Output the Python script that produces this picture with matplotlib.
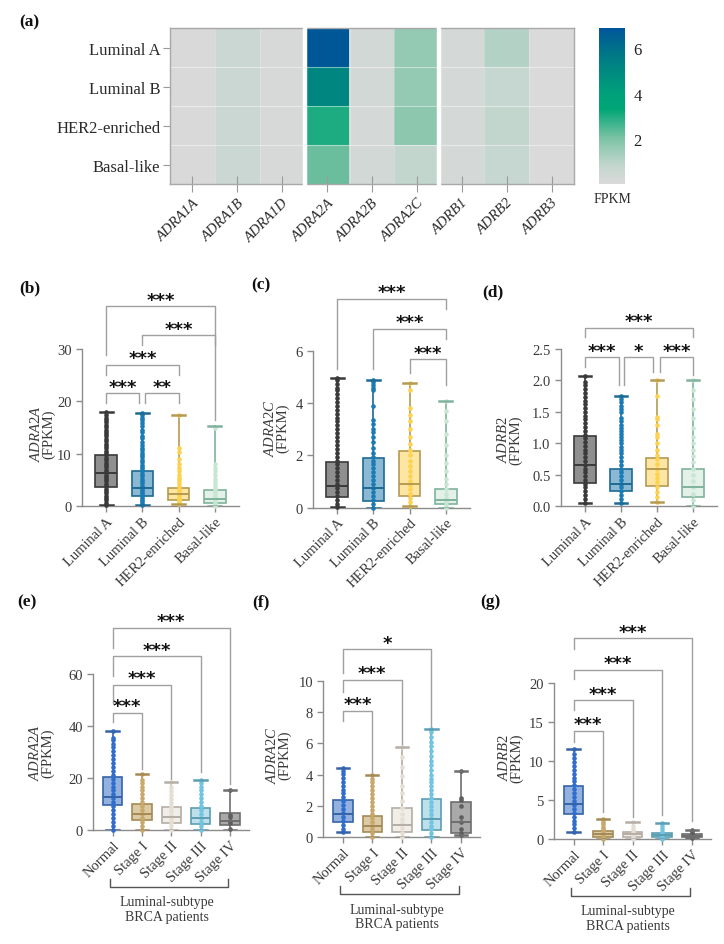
import numpy as np
import matplotlib
matplotlib.use('Agg')
import matplotlib.pyplot as plt
from matplotlib.colors import LinearSegmentedColormap

plt.rcParams['font.family'] = ['Liberation Serif', 'DejaVu Serif']
plt.rcParams['mathtext.fontset'] = 'custom'
plt.rcParams['mathtext.it'] = 'Liberation Serif:italic'
plt.rcParams['mathtext.rm'] = 'Liberation Serif'

W, H = 724, 945

# ---------------- (a) heatmap data ----------------
subtypes = ['Luminal A', 'Luminal B', 'HER2-enriched', 'Basal-like']
receptors = ['ADRA1A', 'ADRA1B', 'ADRA1D', 'ADRA2A', 'ADRA2B',
             'ADRA2C', 'ADRB1', 'ADRB2', 'ADRB3']
heat_fpkm = [
    [0.05, 0.50, 0.15, 6.80, 0.25, 1.60, 0.20, 1.10, 0.02],
    [0.05, 0.50, 0.15, 5.10, 0.25, 1.60, 0.20, 0.70, 0.02],
    [0.05, 0.50, 0.15, 3.00, 0.20, 1.75, 0.20, 0.80, 0.02],
    [0.05, 0.55, 0.15, 2.20, 0.25, 0.80, 0.20, 0.70, 0.02],
]

# ---------------- (b)-(d) subtype box data ----------------
subtype_colors = {
    'fill': ['#8f8f8f', '#8bb9d4', '#fde6a3', '#e3f1e8'],
    'edge': ['#3a3a3a', '#1d6a94', '#b59a52', '#7fb39d'],
    'pts':  ['#3a3a3a', '#1a7bb5', '#fdd24f', '#c9e6d3'],
}

b_med = [6.3, 3.4, 2.3, 1.4]
b_q1 = [3.6, 2.0, 1.2, 0.6]
b_q3 = [9.7, 6.7, 3.4, 3.1]
b_lo = [0.25, 0.1, 0.3, 0.0]
b_hi = [18.0, 17.8, 17.3, 15.2]
b_pts = [
    [0.25, 0.6, 1.1, 1.5, 2.0, 2.4, 2.9, 3.3, 3.8, 4.2, 4.7, 5.1, 5.6, 6.0, 6.5, 6.9, 7.4,
     7.9, 8.3, 8.8, 9.2, 9.7, 10.1, 10.6, 11.0, 11.5, 11.9, 12.4, 12.8, 13.3, 13.7, 14.2,
     14.6, 15.1, 15.5, 16.0, 16.4, 16.9, 17.4, 18.0],
    [0.1, 0.5, 0.9, 1.3, 1.7, 2.2, 2.6, 3.0, 3.5, 3.9, 4.3, 4.8, 5.2, 5.7, 6.1, 6.6, 7.0,
     7.5, 7.9, 8.4, 8.8, 9.3, 9.7, 10.2, 10.7, 11.1, 11.6, 12.2, 12.9, 13.4, 14.1, 14.6,
     15.3, 15.9, 16.4, 16.9, 17.4, 17.8],
    [0.3, 0.7, 1.0, 1.4, 1.8, 2.1, 2.5, 2.9, 3.3, 3.8, 4.3, 4.9, 5.4, 6.0, 6.6, 7.3, 8.1,
     8.9, 10.3, 11.0, 17.3],
    [0.0, 0.4, 0.8, 1.2, 1.7, 2.1, 2.6, 3.0, 3.5, 4.0, 4.6, 5.2, 5.9, 6.6, 7.3, 8.0, 15.0],
]

c_med = [0.83, 0.75, 0.92, 0.29]
c_q1 = [0.39, 0.26, 0.45, 0.13]
c_q3 = [1.73, 1.89, 2.15, 0.71]
c_lo = [0.02, 0.0, 0.04, 0.0]
c_hi = [4.97, 4.88, 4.76, 4.08]
c_pts = [
    [0.02, 0.15, 0.3, 0.45, 0.6, 0.75, 0.9, 1.05, 1.2, 1.35, 1.5, 1.65, 1.8, 1.95, 2.1,
     2.25, 2.4, 2.55, 2.7, 2.85, 3.0, 3.15, 3.3, 3.45, 3.6, 3.75, 3.9, 4.05, 4.2, 4.35,
     4.5, 4.6, 4.75, 4.9, 4.97],
    [0.0, 0.15, 0.3, 0.45, 0.6, 0.75, 0.9, 1.05, 1.2, 1.35, 1.5, 1.65, 1.8, 1.95, 2.1,
     2.3, 2.5, 2.7, 2.9, 3.0, 3.2, 3.35, 3.9, 4.5, 4.6, 4.7, 4.8, 4.88],
    [0.04, 0.2, 0.35, 0.5, 0.7, 0.85, 1.0, 1.2, 1.4, 1.6, 1.8, 2.0, 2.2, 2.45, 2.7, 3.0,
     3.3, 3.55, 3.8, 4.5, 4.76],
    [0.0, 0.1, 0.2, 0.35, 0.5, 0.7, 0.9, 1.1, 1.4, 1.7, 2.0, 2.4, 2.8, 3.3, 3.7, 4.08],
]

d_med = [0.66, 0.35, 0.59, 0.31]
d_q1 = [0.365, 0.24, 0.33, 0.14]
d_q3 = [1.11, 0.60, 0.76, 0.60]
d_lo = [0.06, 0.06, 0.07, 0.01]
d_hi = [2.07, 1.76, 2.0, 2.01]
d_pts = [
    [0.06, 0.12, 0.18, 0.24, 0.3, 0.36, 0.42, 0.48, 0.54, 0.6, 0.66, 0.72, 0.78, 0.84,
     0.9, 0.96, 1.02, 1.08, 1.14, 1.2, 1.26, 1.32, 1.38, 1.44, 1.5, 1.56, 1.62, 1.68,
     1.74, 1.8, 1.86, 1.92, 1.98, 2.07],
    [0.06, 0.12, 0.18, 0.24, 0.3, 0.36, 0.42, 0.48, 0.54, 0.6, 0.66, 0.72, 0.78, 0.84,
     0.9, 0.95, 1.0, 1.05, 1.1, 1.15, 1.2, 1.25, 1.3, 1.35, 1.4, 1.5, 1.55, 1.6, 1.65,
     1.7, 1.76],
    [0.07, 0.15, 0.22, 0.3, 0.38, 0.45, 0.52, 0.6, 0.68, 0.75, 0.82, 0.9, 1.0, 1.1, 1.15,
     1.3, 1.38, 1.42, 1.75, 2.0],
    [0.01, 0.1, 0.2, 0.3, 0.4, 0.5, 0.6, 0.7, 0.8, 0.9, 1.0, 1.1, 1.25, 1.4, 1.55, 1.7,
     1.85, 2.01],
]

# ---------------- (e)-(g) stage box data ----------------
stages = ['Normal', 'Stage I', 'Stage II', 'Stage III', 'Stage IV']
stage_colors = {
    'fill': ['#93b1de', '#dccaa5', '#f1eeea', '#bfe0ea', '#a9a9a9'],
    'edge': ['#3563a8', '#a58a55', '#b5aea6', '#5b9eb4', '#6e6e6e'],
    'pts':  ['#2f6dcf', '#c9a86b', '#e6ded5', '#72c5e1', '#5e5e5e'],
}

e_med = [12.8, 6.4, 5.2, 4.85, 3.6]
e_q1 = [9.6, 4.0, 2.9, 2.55, 2.1]
e_q3 = [20.6, 10.0, 8.9, 8.7, 6.5]
e_lo = [0.3, 0.3, 0.0, 0.3, 0.3]
e_hi = [38.1, 21.7, 18.5, 19.3, 15.3]
e_pts = [
    [0.3, 1.8, 3.3, 4.8, 6.3, 7.8, 9.3, 10.8, 12.3, 13.8, 15.3, 16.8, 18.3, 19.8, 21.3,
     22.8, 24.3, 25.8, 27.3, 28.8, 30.3, 31.8, 33.3, 34.8, 35.5, 38.1],
    [0.3, 1.8, 3.3, 4.8, 6.3, 7.8, 9.3, 10.8, 12.3, 13.8, 15.3, 16.8, 18.0, 19.5, 21.7],
    [0.0, 1.5, 3.0, 4.5, 6.0, 7.5, 9.0, 10.5, 12.0, 13.5, 15.0, 16.5, 18.5],
    [0.3, 1.8, 3.3, 4.8, 6.3, 7.8, 9.3, 10.8, 12.3, 13.8, 15.3, 16.8, 18.0, 19.3],
    [0.5, 2.9, 3.5, 5.2, 6.0, 15.3],
]

f_med = [1.49, 0.74, 0.81, 1.15, 1.0]
f_q1 = [1.0, 0.32, 0.36, 0.49, 0.30]
f_q3 = [2.40, 1.38, 1.87, 2.45, 2.28]
f_lo = [0.32, 0.0, 0.0, 0.0, 0.15]
f_hi = [4.40, 3.98, 5.79, 6.91, 4.21]
f_pts = [
    [0.32, 0.55, 0.8, 1.05, 1.3, 1.55, 1.8, 2.05, 2.3, 2.55, 2.8, 3.05, 3.3, 3.55, 3.8,
     4.05, 4.25, 4.4],
    [0.0, 0.25, 0.5, 0.75, 1.0, 1.25, 1.5, 1.75, 2.0, 2.25, 2.5, 2.75, 3.0, 3.25, 3.5,
     3.75, 3.98],
    [0.0, 0.3, 0.6, 0.9, 1.2, 1.5, 1.9, 2.3, 2.8, 3.3, 3.9, 4.5, 5.1, 5.79],
    [0.0, 0.25, 0.5, 0.75, 1.0, 1.25, 1.5, 1.75, 2.0, 2.25, 2.5, 2.75, 3.0, 3.25, 3.5,
     3.75, 4.0, 4.3, 4.6, 4.9, 5.2, 5.5, 5.8, 6.1, 6.4, 6.7, 6.91],
    [0.15, 0.25, 0.55, 1.0, 1.3, 2.0, 2.38, 2.5, 4.21],
]

g_med = [4.52, 0.72, 0.64, 0.55, 0.47]
g_q1 = [3.24, 0.34, 0.30, 0.26, 0.26]
g_q3 = [6.87, 1.07, 0.98, 0.85, 0.68]
g_lo = [0.9, 0.1, 0.05, 0.05, 0.17]
g_hi = [11.56, 2.6, 2.2, 2.05, 1.19]
g_pts = [
    [0.9, 1.4, 1.9, 2.4, 2.9, 3.4, 3.9, 4.4, 4.9, 5.4, 5.9, 6.4, 6.9, 7.4, 7.9, 8.4, 8.9,
     9.4, 9.9, 10.4, 10.9, 11.56],
    [0.1, 0.4, 0.7, 1.0, 1.3, 1.6, 1.9, 2.2, 2.6],
    [0.05, 0.35, 0.65, 0.95, 1.3, 1.7, 2.2],
    [0.05, 0.35, 0.65, 0.95, 1.3, 1.7, 2.05],
    [0.17, 0.3, 0.45, 0.6, 0.8, 1.0, 1.19],
]

# significance brackets: (x_left, x_right, bar_y, left_leg_end, right_leg_end, label)
b_sig = [(1, 4, 38.2, 28.8, 16.4, '***'), (2, 4, 32.6, 30.7, 30.7, '***'),
         (1, 3, 27.0, 25.0, 25.0, '***'), (1, 1.9, 21.5, 19.7, 19.7, '***'),
         (2.07, 3, 21.5, 19.7, 19.7, '**')]
c_sig = [(1, 4, 8.01, 5.3, 7.6, '***'), (2, 4, 6.85, 5.3, 6.45, '***'),
         (3, 4, 5.68, 5.17, 4.69, '***')]
d_sig = [(1, 4, 2.84, 2.69, 2.69, '***'), (1, 1.94, 2.37, 2.22, 1.92, '***'),
         (2.09, 2.9, 2.37, 1.92, 2.14, '*'), (3.09, 4, 2.37, 2.14, 2.08, '***')]
e_sig = [(1, 5, 77.8, 70.1, 17.8, '***'), (1, 4, 66.9, 59.3, 22.2, '***'),
         (1, 3, 55.9, 49.0, 19.7, '***'), (1, 2, 45.2, 41.4, 23.5, '***')]
f_sig = [(1, 4, 12.0, 10.5, 7.0, '*'), (1, 3, 10.06, 9.26, 5.85, '***'),
         (1, 2, 8.09, 7.45, 4.0, '***')]
g_sig = [(1, 5, 25.7, 24.3, 2.4, '***'), (1, 4, 21.7, 20.5, 3.1, '***'),
         (1, 3, 17.8, 16.6, 2.8, '***'), (1, 2, 13.9, 12.5, 3.45, '***')]

AX_GRAY = '#8c8c8c'
TXT = '#3a3a3a'


def px_axes(fig, x0, y0, x1, y1):
    return fig.add_axes([x0 / W, 1 - y1 / H, (x1 - x0) / W, (y1 - y0) / H])


def panel_label(fig, x, y, s):
    fig.text(x / W, 1 - y / H, s, fontsize=12.5, fontweight='bold',
             ha='left', va='center', color='#111111')


def gene_label(fig, x, y, gene):
    fig.text(x / W, 1 - y / H, '$\\mathit{' + gene + '}$\n(FPKM)', rotation=90,
             ha='center', va='center', fontsize=10.5, color=TXT, linespacing=0.95,
             multialignment='center')


def box_panel(ax, labels, med, q1, q3, lo, hi, pts, colors, width, capw,
              ylim, yticks, sig, xlim, yfmt=None):
    n = len(labels)
    pos = list(range(1, n + 1))
    stats = [dict(med=med[i], q1=q1[i], q3=q3[i], whislo=lo[i], whishi=hi[i],
                  fliers=[]) for i in range(n)]
    bp = ax.bxp(stats, positions=pos, widths=width, capwidths=capw,
                patch_artist=True, showfliers=False)
    for i in range(n):
        bp['boxes'][i].set(facecolor=colors['fill'][i], edgecolor=colors['edge'][i],
                           linewidth=1.2, zorder=2)
        bp['medians'][i].set(color=colors['edge'][i], linewidth=1.4, zorder=4)
        for k in (2 * i, 2 * i + 1):
            bp['whiskers'][k].set(color=colors['edge'][i], linewidth=1.2, zorder=1.5)
            bp['caps'][k].set(color=colors['edge'][i], linewidth=1.8, zorder=3.5)
        ax.scatter(np.full(len(pts[i]), pos[i]), pts[i], s=11, color=colors['pts'][i],
                   linewidths=0, zorder=3, clip_on=False)

    for x1, x2, y, yl, yr, lab in sig:
        ax.plot([x1, x1, x2, x2], [yl, y, y, yr], color='#a0a0a0', lw=1.0,
                clip_on=False, zorder=1)
        ax.annotate(lab, xy=((x1 + x2) / 2, y), xytext=(0, 1),
                    textcoords='offset points', ha='center', va='baseline',
                    fontsize=13, fontweight='bold', family='DejaVu Sans',
                    color='#111111', annotation_clip=False)

    ax.set_xlim(*xlim)
    ax.set_ylim(*ylim)
    ax.set_yticks(yticks)
    if yfmt:
        ax.set_yticklabels([yfmt % v for v in yticks])
    ax.set_xticks(pos)
    ax.set_xticklabels(labels, rotation=45, ha='right', rotation_mode='anchor',
                       fontsize=10.5, color=TXT)
    for s in ('top', 'right'):
        ax.spines[s].set_visible(False)
    for s in ('left', 'bottom'):
        ax.spines[s].set_color(AX_GRAY)
        ax.spines[s].set_linewidth(1.0)
    ax.tick_params(axis='both', colors=AX_GRAY, length=4, width=1.0,
                   labelcolor=TXT, labelsize=10.5)
    ax.tick_params(axis='x', pad=2)


def patient_bracket(ax):
    tr = ax.get_xaxis_transform()
    ax.plot([0.9, 0.9, 4.93, 4.93], [-0.313, -0.365, -0.365, -0.313], transform=tr,
            color='#555555', lw=1.0, clip_on=False)
    ax.text(2.85, -0.505, 'Luminal-subtype\nBRCA patients', transform=tr,
            ha='center', va='center', fontsize=10, color=TXT, linespacing=1.15)


fig = plt.figure(figsize=(W / 100, H / 100), dpi=100)

# ---------------- (a) ----------------
cmap = LinearSegmentedColormap.from_list('fpkm', [
    (0.0, '#dadada'), (0.12, '#c2d6ce'), (0.29, '#7dc3a5'), (0.48, '#00a676'),
    (0.58, '#00a07a'), (0.72, '#008a80'), (0.87, '#00718a'), (1.0, '#00559a')])

ax_h = px_axes(fig, 170, 29, 574, 185)
im = ax_h.imshow(np.array(heat_fpkm), cmap=cmap, vmin=0, vmax=6.9, aspect='auto',
                 interpolation='nearest')
for r in range(1, len(subtypes)):
    ax_h.axhline(r - 0.5, color='white', lw=0.8, alpha=0.45)
for c in range(1, len(receptors)):
    ax_h.axvline(c - 0.5, color='white', lw=0.6, alpha=0.25)
for c in (2.5, 5.5):
    ax_h.axvline(c, color='white', lw=3.2, zorder=5, clip_on=False, ymin=-0.01, ymax=1.01)
ax_h.set_yticks(range(len(subtypes)))
ax_h.set_yticklabels(subtypes, fontsize=12, color='#2a2a2a')
ax_h.set_xticks(range(len(receptors)))
ax_h.set_xticklabels(receptors, rotation=45, ha='right', rotation_mode='anchor',
                     fontsize=10.5, fontstyle='italic', color='#2a2a2a')
for s in ax_h.spines.values():
    s.set_color('#a8a8a8')
    s.set_linewidth(1.0)
ax_h.tick_params(axis='y', length=5, width=0.8, color='#9a9a9a', pad=2)
ax_h.tick_params(axis='x', direction='inout', length=11, width=0.8, color='#9a9a9a', pad=3)

cax = px_axes(fig, 599, 29, 625, 185)
cb = fig.colorbar(im, cax=cax, ticks=[2, 4, 6])
cb.outline.set_visible(False)
cax.tick_params(length=0, labelsize=12, labelcolor='#222222', pad=6)
cax.text(0.5, -0.05, 'FPKM', transform=cax.transAxes, ha='center', va='top',
         fontsize=10, color='#2a2a2a')

panel_label(fig, 19, 22, '(a)')

# ---------------- (b)(c)(d) ----------------
xl4 = (0.33, 4.67)
ax_b = px_axes(fig, 82, 350, 239, 507)
box_panel(ax_b, subtypes, b_med, b_q1, b_q3, b_lo, b_hi, b_pts, subtype_colors,
          0.6, 0.35, (0, 30), [0, 10, 20, 30], b_sig, xl4)
ax_c = px_axes(fig, 313, 352, 470, 508.5)
box_panel(ax_c, subtypes, c_med, c_q1, c_q3, c_lo, c_hi, c_pts, subtype_colors,
          0.6, 0.35, (0, 6), [0, 2, 4, 6], c_sig, xl4)
ax_d = px_axes(fig, 561, 350, 717, 507.3)
box_panel(ax_d, subtypes, d_med, d_q1, d_q3, d_lo, d_hi, d_pts, subtype_colors,
          0.6, 0.35, (0, 2.5), [0, 0.5, 1.0, 1.5, 2.0, 2.5], d_sig, xl4, yfmt='%.1f')

gene_label(fig, 42, 434, 'ADRA2A')
gene_label(fig, 276, 428, 'ADRA2C')
gene_label(fig, 509, 440, 'ADRB2')

panel_label(fig, 19, 288, '(b)')
panel_label(fig, 251, 285, '(c)')
panel_label(fig, 482, 292, '(d)')

# ---------------- (e)(f)(g) ----------------
xl5 = (0.34, 5.65)
ax_e = px_axes(fig, 93.3, 675, 249, 831.3)
box_panel(ax_e, stages, e_med, e_q1, e_q3, e_lo, e_hi, e_pts, stage_colors,
          0.66, 0.42, (0, 60), [0, 20, 40, 60], e_sig, xl5)
ax_f = px_axes(fig, 323.3, 681.7, 480, 838.3)
box_panel(ax_f, stages, f_med, f_q1, f_q3, f_lo, f_hi, f_pts, stage_colors,
          0.66, 0.42, (0, 10), [0, 2, 4, 6, 8, 10], f_sig, xl5)
ax_g = px_axes(fig, 554, 684, 711, 840.3)
box_panel(ax_g, stages, g_med, g_q1, g_q3, g_lo, g_hi, g_pts, stage_colors,
          0.66, 0.42, (0, 20), [0, 5, 10, 15, 20], g_sig, xl5)
for ax in (ax_e, ax_f, ax_g):
    patient_bracket(ax)

gene_label(fig, 41, 753, 'ADRA2A')
gene_label(fig, 278, 755, 'ADRA2C')
gene_label(fig, 510, 758, 'ADRB2')

panel_label(fig, 17, 602, '(e)')
panel_label(fig, 252, 602, '(f)')
panel_label(fig, 480, 602, '(g)')

fig.savefig('out.png', dpi=100)
